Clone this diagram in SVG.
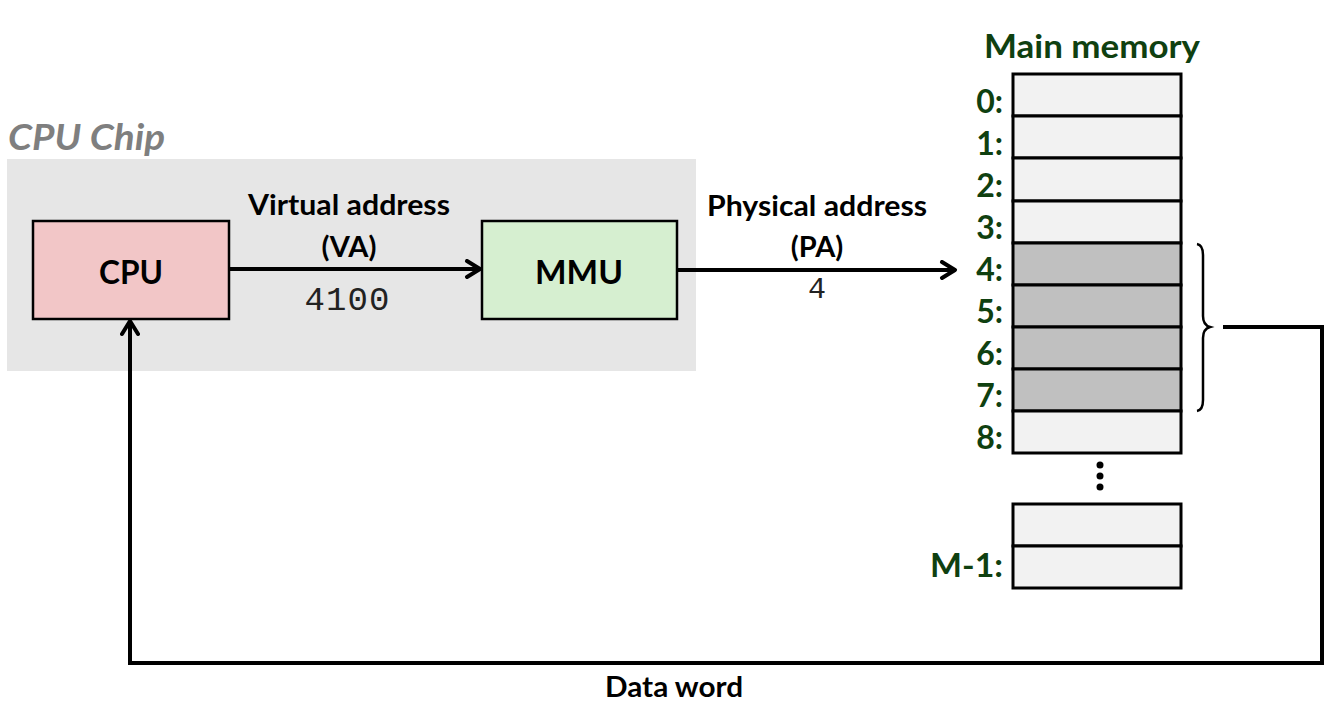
<svg xmlns="http://www.w3.org/2000/svg" width="1328" height="727" viewBox="0 0 1328 727">
<style>
.lbl{font-family:Lato,"Open Sans","Liberation Sans",sans-serif;font-weight:bold;fill:#000}
.mono{font-family:"Liberation Mono","DejaVu Sans Mono",monospace;fill:#222}
.addr{font-family:Lato,"Open Sans","Liberation Sans",sans-serif;font-weight:bold;fill:#0f4010;font-size:32px;text-anchor:end}
.cell{fill:#f2f2f2;stroke:#000;stroke-width:3}
.cellg{fill:#c0c0c0;stroke:#000;stroke-width:3}
.conn{fill:none;stroke:#000;stroke-width:4}
</style>
<defs>
<marker id="arr" viewBox="0 0 20 20" refX="17" refY="10" markerWidth="20" markerHeight="20" markerUnits="userSpaceOnUse" orient="auto">
<path d="M4,2 L17,10 L4,18" fill="none" stroke="#000" stroke-width="4" stroke-linecap="round" stroke-linejoin="round"/>
</marker>
</defs>
<rect width="1328" height="727" fill="#fff"/>
<g id="chip">
<rect x="7" y="159" width="689" height="212" fill="#e6e6e6"/>
<text x="8" y="150" font-family="Lato,'Open Sans','Liberation Sans',sans-serif" font-weight="bold" font-style="italic" font-size="37" fill="#7f7f7f" textLength="157" lengthAdjust="spacingAndGlyphs">CPU Chip</text>
</g>
<g id="cpu">
<rect x="33" y="221" width="196" height="98" fill="#f2c6c7" stroke="#000" stroke-width="2.5"/>
<text class="lbl" x="131" y="284" font-size="33" text-anchor="middle" textLength="64" lengthAdjust="spacingAndGlyphs">CPU</text>
</g>
<g id="mmu">
<rect x="482" y="221" width="195" height="98" fill="#d6efd0" stroke="#000" stroke-width="2.5"/>
<text class="lbl" x="579" y="284" font-size="33" text-anchor="middle" textLength="88" lengthAdjust="spacingAndGlyphs">MMU</text>
</g>
<g id="memory">
<text x="1092" y="58" font-family="Lato,'Open Sans','Liberation Sans',sans-serif" font-weight="bold" font-size="33" fill="#0f4010" text-anchor="middle" textLength="216" lengthAdjust="spacingAndGlyphs">Main memory</text>
<rect class="cell" x="1013" y="74" width="168" height="42"/>
<rect class="cell" x="1013" y="116" width="168" height="42"/>
<rect class="cell" x="1013" y="158" width="168" height="43"/>
<rect class="cell" x="1013" y="201" width="168" height="42"/>
<rect class="cellg" x="1013" y="243" width="168" height="42"/>
<rect class="cellg" x="1013" y="285" width="168" height="42"/>
<rect class="cellg" x="1013" y="327" width="168" height="42"/>
<rect class="cellg" x="1013" y="369" width="168" height="42"/>
<rect class="cell" x="1013" y="411" width="168" height="42"/>
<rect class="cell" x="1013" y="504" width="168" height="42"/>
<rect class="cell" x="1013" y="546" width="168" height="42"/>
<text class="addr" x="1003" y="113">0:</text>
<text class="addr" x="1003" y="155">1:</text>
<text class="addr" x="1003" y="197">2:</text>
<text class="addr" x="1003" y="239">3:</text>
<text class="addr" x="1003" y="281">4:</text>
<text class="addr" x="1003" y="323">5:</text>
<text class="addr" x="1003" y="365">6:</text>
<text class="addr" x="1003" y="407">7:</text>
<text class="addr" x="1003" y="449">8:</text>
<text class="addr" x="1003" y="577" textLength="73" lengthAdjust="spacingAndGlyphs">M-1:</text>
<circle cx="1100" cy="465" r="3.5" fill="#000"/>
<circle cx="1100" cy="476" r="3.5" fill="#000"/>
<circle cx="1100" cy="487" r="3.5" fill="#000"/>
<path d="M1197,244 Q1203,245 1203,255 L1203,316 Q1203,325 1210,327 Q1203,329 1203,338 L1203,400 Q1203,410 1197,411" fill="none" stroke="#000" stroke-width="2.5"/>
</g>
<g id="connectors">
<line class="conn" x1="229" y1="269" x2="480" y2="269" marker-end="url(#arr)"/>
<line class="conn" x1="677" y1="270" x2="955" y2="270" marker-end="url(#arr)"/>
<polyline class="conn" points="1223,327 1322,327 1322,663 130,663 130,321" marker-end="url(#arr)"/>
<text class="lbl" x="349" y="215" font-size="28" text-anchor="middle" textLength="202" lengthAdjust="spacingAndGlyphs">Virtual address</text>
<text class="lbl" x="349" y="257" font-size="29" text-anchor="middle">(VA)</text>
<text class="mono" x="347" y="310" font-size="34" text-anchor="middle" textLength="85" lengthAdjust="spacing">4100</text>
<text class="lbl" x="817" y="216" font-size="28" text-anchor="middle" textLength="220" lengthAdjust="spacingAndGlyphs">Physical address</text>
<text class="lbl" x="817" y="257" font-size="29" text-anchor="middle">(PA)</text>
<text class="mono" x="817" y="298" font-size="30" text-anchor="middle">4</text>
<text class="lbl" x="674" y="697" font-size="29" text-anchor="middle" textLength="138" lengthAdjust="spacingAndGlyphs">Data word</text>
</g>
</svg>
